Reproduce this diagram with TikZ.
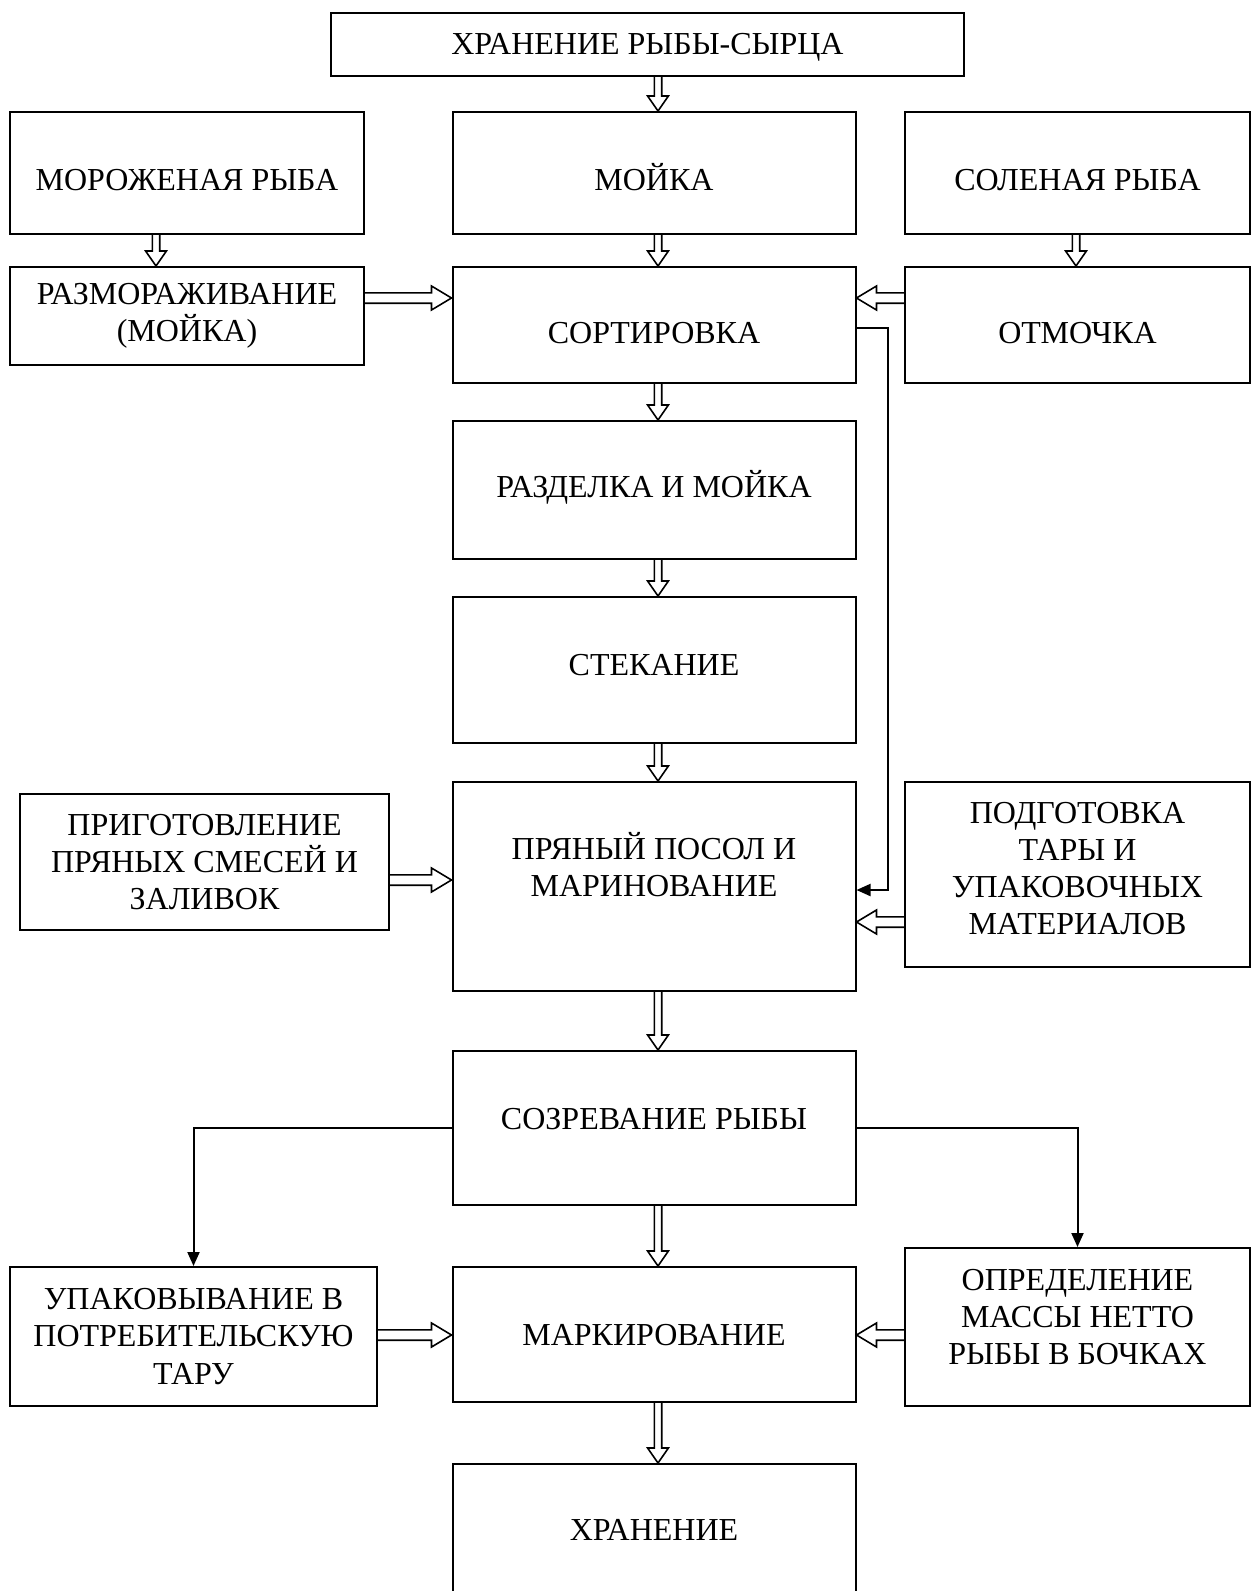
\documentclass[tikz,border=0pt]{standalone}
\usepackage{fontspec}
\setmainfont{Liberation Serif}
\usetikzlibrary{arrows.meta,calc}
\newcommand{\boxfont}{\fontsize{16}{18.6}\selectfont}

\begin{document}
\begin{tikzpicture}[x=0.5pt, y=-0.5pt,
  box/.style={draw, line width=1pt, inner sep=2pt, align=center, font=\boxfont},
  col/.style={box, minimum width=201.5pt},
  side/.style={box, minimum width=172.5pt},
  one/.style={text height=#1, text depth=0pt},
  dbl/.style n args={3}{line width=0.8pt, line join=miter, to path={
    let \p1=(\tikztostart), \p2=(\tikztotarget), \p3=($(\p2)!#1!(\p1)$) in
    ($(\p1)!#2!90:(\p2)$) -- ($(\p3)!#2!90:(\p2)$) -- ($(\p3)!#3!90:(\p2)$) -- (\p2)
    -- ($(\p3)!#3!-90:(\p2)$) -- ($(\p3)!#2!-90:(\p2)$) -- ($(\p1)!#2!-90:(\p2)$)}},
  vdbl/.style={dbl={7.5pt}{1.85pt}{5.2pt}},
  hdbl/.style={dbl={10pt}{2.6pt}{6pt}},
  thinarr/.style={line width=1pt, -{Triangle[length=7pt, width=6pt]}}]
  \useasboundingbox (0,0) rectangle (1251,1591);

  \node[box, one=10.1pt, minimum width=316.5pt, minimum height=31.5pt] (raw) at (647.5,44.5)
  {ХРАНЕНИЕ РЫБЫ-СЫРЦА};

  \node[box, one=17.2pt, minimum width=177pt, minimum height=61pt] (frozen) at (187,173)
  {МОРОЖЕНАЯ РЫБА};
  \node[col, one=17.2pt, minimum height=61pt] (wash) at (654,173) {МОЙКА};
  \node[side, one=17.2pt, minimum height=61pt] (salted) at (1077.5,173) {СОЛЕНАЯ РЫБА};

  \node[box, minimum width=177pt, minimum height=49pt] (thaw) at (187,316)
  {РАЗМОРАЖИВАНИЕ\\(МОЙКА)};
  \node[col, one=18.2pt, minimum height=58pt] (sort) at (654,325) {СОРТИРОВКА};
  \node[side, one=18.2pt, minimum height=58pt] (soak) at (1077.5,325) {ОТМОЧКА};

  \node[col, one=7.6pt, minimum height=69pt] (cut) at (654,490) {РАЗДЕЛКА И МОЙКА};
  \node[col, one=5.6pt, minimum height=73pt] (drain) at (654,670) {СТЕКАНИЕ};

  \node[box, minimum width=184.5pt, minimum height=68pt] (mix) at (204.5,862)
  {ПРИГОТОВЛЕНИЕ\\ПРЯНЫХ СМЕСЕЙ И\\ЗАЛИВОК};
  \node[col, minimum height=104.5pt, text depth=22pt] (salt) at (654,886.5)
  {ПРЯНЫЙ ПОСОЛ И\\МАРИНОВАНИЕ};
  \node[side, minimum height=92.5pt, text depth=6pt] (pack) at (1077.5,874.5)
  {ПОДГОТОВКА\\ТАРЫ И\\УПАКОВОЧНЫХ\\МАТЕРИАЛОВ};

  \node[col, one=1.4pt, minimum height=77pt] (ripen) at (654,1128) {СОЗРЕВАНИЕ РЫБЫ};

  \node[box, minimum width=183.5pt, minimum height=69.5pt] (wrap) at (193.5,1336.5)
  {УПАКОВЫВАНИЕ В\\ПОТРЕБИТЕЛЬСКУЮ\\ТАРУ};
  \node[col, one=10.6pt, minimum height=67.5pt] (label) at (654,1334.5) {МАРКИРОВАНИЕ};
  \node[side, minimum height=79pt, text depth=10pt] (weigh) at (1077.5,1327)
  {ОПРЕДЕЛЕНИЕ\\МАССЫ НЕТТО\\РЫБЫ В БОЧКАХ};

  \node[col, one=10.6pt, minimum height=66pt] (store) at (654,1530) {ХРАНЕНИЕ};

  % main line
  \draw[vdbl] (raw.south -| 658,0) to (wash.north -| 658,0);
  \draw[vdbl] (wash.south -| 658,0) to (sort.north -| 658,0);
  \draw[vdbl] (sort.south -| 658,0) to (cut.north -| 658,0);
  \draw[vdbl] (cut.south -| 658,0) to (drain.north -| 658,0);
  \draw[vdbl] (drain.south -| 658,0) to (salt.north -| 658,0);
  \draw[vdbl] (salt.south -| 658,0) to (ripen.north -| 658,0);
  \draw[vdbl] (ripen.south -| 658,0) to (label.north -| 658,0);
  \draw[vdbl] (label.south -| 658,0) to (store.north -| 658,0);

  % side inputs
  \draw[vdbl] (frozen.south -| 156,0) to (thaw.north -| 156,0);
  \draw[vdbl] (salted.south -| 1076,0) to (soak.north -| 1076,0);
  \draw[hdbl] (thaw.east |- 0,298) to (sort.west |- 0,298);
  \draw[hdbl] (soak.west |- 0,298) to (sort.east |- 0,298);
  \draw[hdbl] (mix.east |- 0,880) to (salt.west |- 0,880);
  \draw[hdbl] (pack.west |- 0,922) to (salt.east |- 0,922);
  \draw[hdbl] (wrap.east |- 0,1335) to (label.west |- 0,1335);
  \draw[hdbl] (weigh.west |- 0,1335) to (label.east |- 0,1335);

  \draw[thinarr] (sort.east |- 0,328) -- (888,328) |- (salt.east |- 0,890);
  \draw[thinarr] (ripen.west) -| (wrap.north);
  \draw[thinarr] (ripen.east) -| (weigh.north);
\end{tikzpicture}
\end{document}
